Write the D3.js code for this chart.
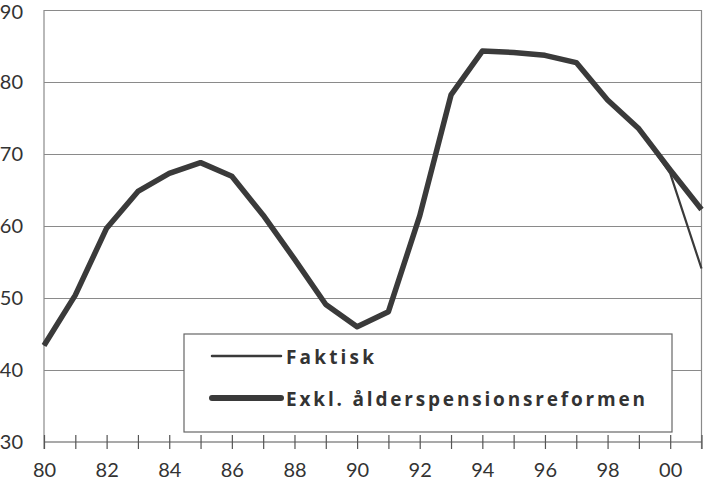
<!DOCTYPE html>
<html>
<head>
<meta charset="utf-8">
<script src="https://cdn.jsdelivr.net/npm/d3@7"></script>
<style>
  html, body { margin: 0; padding: 0; background: #fff; }
  svg { display: block; }
</style>
</head>
<body>
<svg id="chart" width="705" height="484"></svg>
<script>
// ---- data ----
const years = [1980,1981,1982,1983,1984,1985,1986,1987,1988,1989,1990,1991,1992,1993,1994,1995,1996,1997,1998,1999,2000,2001];
const faktisk = [43.4,50.4,59.7,64.8,67.3,68.8,66.9,61.5,55.4,49.1,46.0,48.1,61.4,78.2,84.3,84.1,83.7,82.7,77.5,73.5,67.3,54.1];
const exklReform = [43.4,50.4,59.7,64.8,67.3,68.8,66.9,61.5,55.4,49.1,46.0,48.1,61.4,78.2,84.3,84.1,83.7,82.7,77.5,73.5,67.8,62.3];
const yTicks = [30,40,50,60,70,80,90];
const xTickLabels = ["80","82","84","86","88","90","92","94","96","98","00"];
const legendLabels = ["Faktisk","Exkl. ålderspensionsreformen"];

(function () {
const svg = d3.select("#chart");
const mLeft = 44, mRight = 701.5, mTop = 10, mBottom = 442;
const x = d3.scaleLinear().domain([1980, 2001]).range([mLeft, mRight]);
const y = d3.scaleLinear().domain([30, 90]).range([mBottom, mTop]);
const ink = "#3a3a3a";
const gridCol = "#8a8a8a";
const labelFont = "Lato, 'Open Sans', sans-serif";

// gridlines
svg.append("g")
  .attr("transform", `translate(${mLeft},0)`)
  .call(d3.axisLeft(y).tickValues(yTicks.filter(v => v > 30)).tickSize(-(mRight - mLeft)).tickFormat(""))
  .call(g => g.select(".domain").remove())
  .call(g => g.selectAll("line").attr("stroke", gridCol).attr("stroke-width", 1.2));

// y labels
svg.append("g")
  .attr("transform", `translate(${mLeft},0)`)
  .call(d3.axisLeft(y).tickValues(yTicks).tickSize(0).tickPadding(21).tickFormat(d3.format("d")))
  .call(g => g.select(".domain").remove())
  .call(g => g.selectAll("text")
    .attr("font-family", labelFont).attr("font-weight", 400)
    .attr("font-size", 20).attr("fill", "#333")
    .attr("dy", d => d === 90 ? "0.42em" : "0.32em"));

// frame: left & right verticals
svg.append("line").attr("x1", mLeft).attr("x2", mLeft).attr("y1", mTop).attr("y2", mBottom + 7)
  .attr("stroke", gridCol).attr("stroke-width", 1.2);
svg.append("line").attr("x1", mRight).attr("x2", mRight).attr("y1", mTop).attr("y2", mBottom + 7)
  .attr("stroke", gridCol).attr("stroke-width", 1.2);

// x axis
const xAxis = d3.axisBottom(x)
  .tickValues(years)
  .tickSize(7)
  .tickPadding(14)
  .tickFormat(d => (d % 2 === 0 && d <= 2000) ? xTickLabels[(d - 1980) / 2] : "");
svg.append("g")
  .attr("transform", `translate(0,${mBottom})`)
  .call(xAxis)
  .call(g => g.select(".domain").attr("stroke", "#555").attr("stroke-width", 1.2).attr("d", `M${mLeft},0H${mRight}`))
  .call(g => g.selectAll(".tick line").attr("y1", -7).attr("y2", 7).attr("stroke", "#555").attr("stroke-width", 1.2))
  .call(g => g.selectAll("text")
    .attr("font-family", labelFont).attr("font-weight", 400)
    .attr("font-size", 20).attr("fill", "#333"));

// lines
const line = d3.line().x((d, i) => x(years[i])).y(d => y(d));
svg.append("path").datum(faktisk).attr("d", line)
  .attr("fill", "none").attr("stroke", ink).attr("stroke-width", 2.2).attr("stroke-linejoin", "round");
svg.append("path").datum(exklReform).attr("d", line)
  .attr("fill", "none").attr("stroke", ink).attr("stroke-width", 5.5).attr("stroke-linejoin", "round");

// legend
const lg = svg.append("g");
lg.append("rect").attr("x", 184).attr("y", 334).attr("width", 488).attr("height", 98)
  .attr("fill", "#fff").attr("stroke", "#666").attr("stroke-width", 1.2);
const legendY = [356, 398];
const legendW = [2.5, 6];
const legendTextEnd = [374, 645];
legendLabels.forEach((lab, i) => {
  lg.append("line").attr("x1", 212).attr("x2", 281).attr("y1", legendY[i]).attr("y2", legendY[i])
    .attr("stroke", ink).attr("stroke-width", legendW[i]).attr("stroke-linecap", "round");
  lg.append("text").attr("x", 286).attr("y", legendY[i] + 8)
    .attr("font-family", "'Open Sans', Lato, sans-serif").attr("font-weight", 700)
    .attr("font-size", 19).attr("fill", "#333")
    .attr("textLength", legendTextEnd[i] - 286).attr("lengthAdjust", "spacing")
    .text(lab);
});
})();
</script>
</body>
</html>
